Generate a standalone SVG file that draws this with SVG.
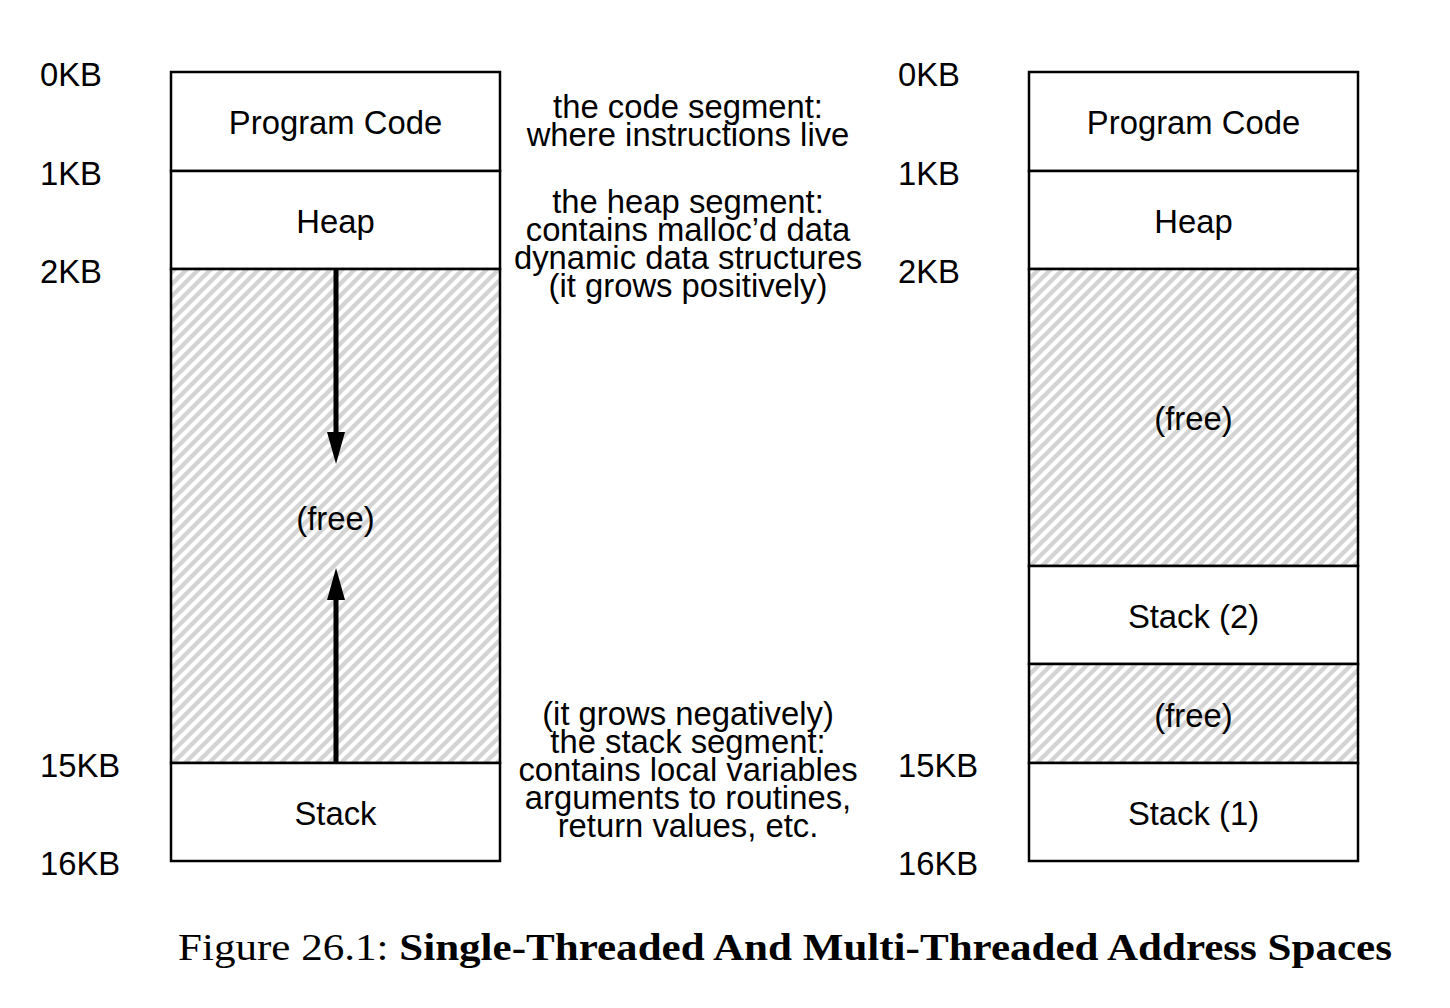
<svg xmlns="http://www.w3.org/2000/svg" width="1450" height="1008" viewBox="0 0 1450 1008">
<style>
.t{font-family:"Liberation Sans",Arial,sans-serif;font-size:32.8px;fill:#000}
.c{text-anchor:middle}
.box{fill:#fff;stroke:#000;stroke-width:2.5}
.free{fill:url(#hatch);stroke:#000;stroke-width:2.5}
.cap{font-family:"Liberation Serif","Times New Roman",serif;font-size:38px;fill:#000}
</style>
<defs>
<pattern id="hatch" patternUnits="userSpaceOnUse" width="12" height="12">
<rect width="12" height="12" fill="#fff"/>
<path d="M-3,15 L15,-3 M-3,3 L3,-3 M9,15 L15,9" stroke="#d4d4d4" stroke-width="4.4"/>
</pattern>
<marker id="ah" markerWidth="32" markerHeight="20" refX="0" refY="10" orient="auto" markerUnits="userSpaceOnUse" viewBox="0 0 32 20">
<path d="M0,1 L32,10 L0,19 Z" fill="#000"/>
</marker>
</defs>
<rect width="1450" height="1008" fill="#fff"/>

<g id="left-space">
<g id="l-code"><rect class="box" x="171" y="72" width="329" height="99"/><text class="t c" x="335.5" y="134">Program Code</text></g>
<g id="l-heap"><rect class="box" x="171" y="171" width="329" height="98"/><text class="t c" x="335.5" y="233">Heap</text></g>
<g id="l-free"><rect class="free" x="171" y="269" width="329" height="494"/><text class="t c" x="335.5" y="530">(free)</text></g>
<g id="l-stack"><rect class="box" x="171" y="763" width="329" height="98"/><text class="t c" x="335.5" y="825">Stack</text></g>
</g>

<g id="right-space">
<g id="r-code"><rect class="box" x="1029" y="72" width="329" height="99"/><text class="t c" x="1193.5" y="134">Program Code</text></g>
<g id="r-heap"><rect class="box" x="1029" y="171" width="329" height="98"/><text class="t c" x="1193.5" y="233">Heap</text></g>
<g id="r-free1"><rect class="free" x="1029" y="269" width="329" height="297"/><text class="t c" x="1193.5" y="430">(free)</text></g>
<g id="r-stack2"><rect class="box" x="1029" y="566" width="329" height="98"/><text class="t c" x="1193.5" y="628">Stack (2)</text></g>
<g id="r-free2"><rect class="free" x="1029" y="664" width="329" height="99"/><text class="t c" x="1193.5" y="727">(free)</text></g>
<g id="r-stack1"><rect class="box" x="1029" y="763" width="329" height="98"/><text class="t c" x="1193.5" y="825">Stack (1)</text></g>
</g>

<g id="connectors">
<line x1="336" y1="269" x2="336" y2="432" stroke="#000" stroke-width="5" marker-end="url(#ah)"/>
<line x1="336" y1="763" x2="336" y2="600" stroke="#000" stroke-width="5" marker-end="url(#ah)"/>
</g>

<g id="addr-left">
<text class="t" x="40" y="86">0KB</text>
<text class="t" x="40" y="185">1KB</text>
<text class="t" x="40" y="283">2KB</text>
<text class="t" x="40" y="777">15KB</text>
<text class="t" x="40" y="875">16KB</text>
</g>
<g id="addr-right">
<text class="t" x="898" y="86">0KB</text>
<text class="t" x="898" y="185">1KB</text>
<text class="t" x="898" y="283">2KB</text>
<text class="t" x="898" y="777">15KB</text>
<text class="t" x="898" y="875">16KB</text>
</g>

<g id="notes">
<text class="t c" x="688" y="118">the code segment:</text>
<text class="t c" x="688" y="146">where instructions live</text>
<text class="t c" x="688" y="213">the heap segment:</text>
<text class="t c" x="688" y="241">contains malloc’d data</text>
<text class="t c" x="688" y="269">dynamic data structures</text>
<text class="t c" x="688" y="297">(it grows positively)</text>
<text class="t c" x="688" y="725">(it grows negatively)</text>
<text class="t c" x="688" y="753">the stack segment:</text>
<text class="t c" x="688" y="781">contains local variables</text>
<text class="t c" x="688" y="809">arguments to routines,</text>
<text class="t c" x="688" y="837">return values, etc.</text>
</g>

<text class="cap" x="178" y="960" textLength="1214" lengthAdjust="spacingAndGlyphs">Figure 26.1: <tspan font-weight="bold">Single-Threaded And Multi-Threaded Address Spaces</tspan></text>
</svg>
